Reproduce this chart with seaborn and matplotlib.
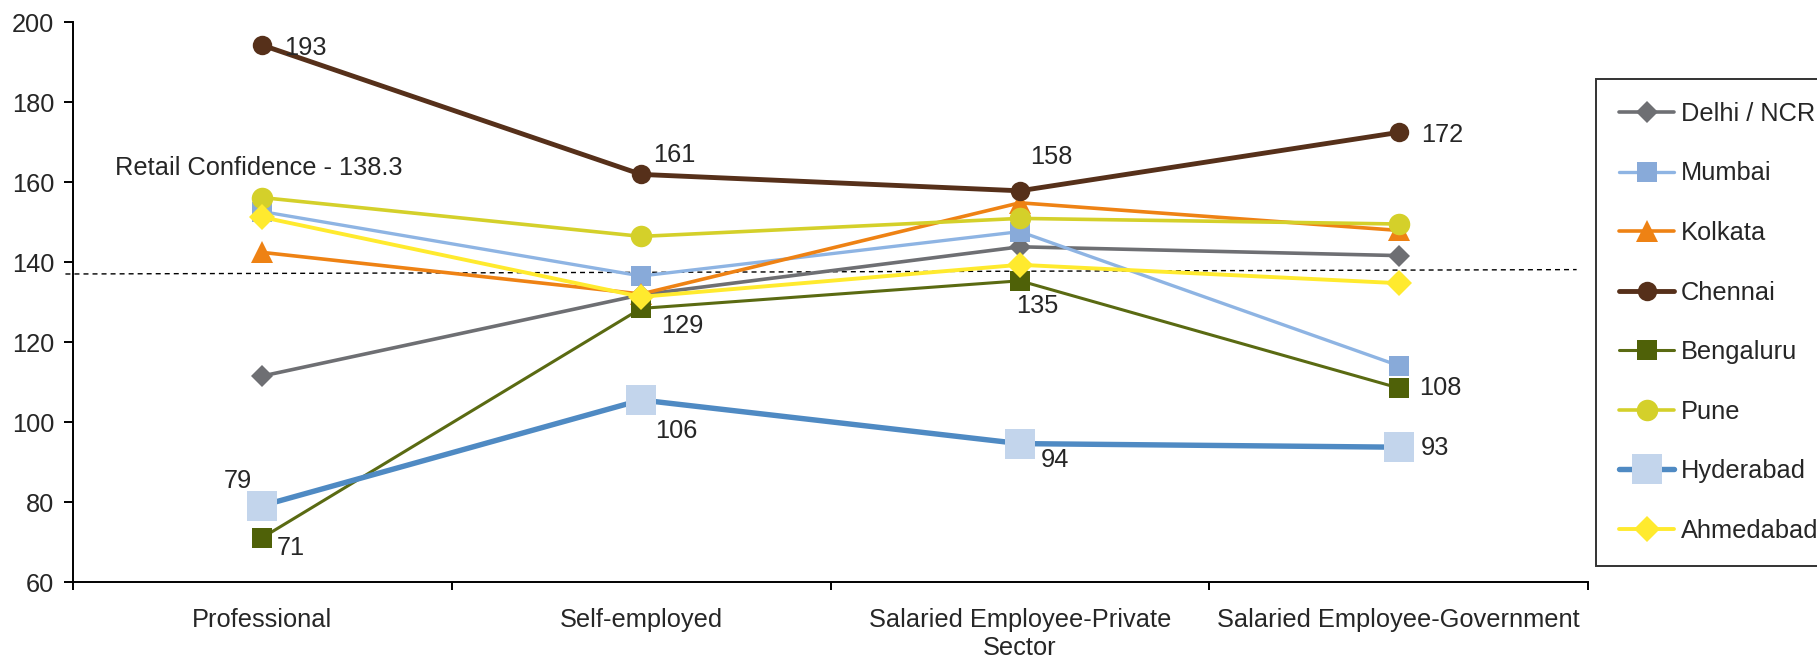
import matplotlib
matplotlib.use("Agg")
import matplotlib.pyplot as plt
import seaborn as sns
import pandas as pd

# ---------------- data ----------------
categories = ["Professional", "Self-employed",
              "Salaried Employee-Private\nSector", "Salaried Employee-Government"]
cities = ["Delhi / NCR", "Mumbai", "Kolkata", "Chennai",
          "Bengaluru", "Pune", "Hyderabad", "Ahmedabad"]

delhi = [111.5, 131.8, 143.8, 141.6]
mumbai = [152.6, 136.5, 147.6, 114.1]
kolkata = [142.4, 132.0, 154.8, 147.9]
chennai = [194.2, 161.9, 157.8, 172.4]
bengaluru = [71.1, 128.4, 135.3, 108.5]
pune = [156.1, 146.4, 150.9, 149.5]
hyderabad = [79.1, 105.5, 94.6, 93.7]
ahmedabad = [151.2, 131.3, 139.3, 134.7]

chennai_labels = ["193", "161", "158", "172"]
bengaluru_labels = ["71", "129", "135", "108"]
hyderabad_labels = ["79", "106", "94", "93"]

retail_label = "Retail Confidence - 138.3"
retail_line = [137.0, 138.1]

yticks = [60, 80, 100, 120, 140, 160, 180, 200]

# ---------------- styles ----------------
series = [delhi, mumbai, kolkata, chennai, bengaluru, pune, hyderabad, ahmedabad]
line_colors = ["#6E6F73", "#8EB4E3", "#EE8214", "#56301A",
               "#5A6A12", "#D4D02A", "#4F8AC3", "#FFEA2E"]
marker_colors = ["#6E6F73", "#88AAD9", "#EE8214", "#56301A",
                 "#4F6108", "#D4D02A", "#C3D5EC", "#FFEA2E"]
markers = ["D", "s", "^", "o", "s", "o", "s", "D"]
msizes = [11.5, 14.5, 16.5, 14, 14, 15.5, 21.5, 13]
lwidths = [2.6, 2.4, 2.6, 3.5, 2.2, 2.6, 3.9, 2.8]

sns.set_theme(style="white")
plt.rcParams["font.family"] = ["Liberation Sans", "DejaVu Sans"]
FS = 18.3

W, H = 1817, 665
fig = plt.figure(figsize=(W / 100, H / 100), dpi=100)
ax = fig.add_axes([73 / W, 1 - 582 / H, (1588 - 73) / W, (582 - 22) / H])

rows = []
for city, vals in zip(cities, series):
    for i, v in enumerate(vals):
        rows.append({"city": city, "pos": i, "value": v})
df = pd.DataFrame(rows)

for k, city in enumerate(cities):
    sub = df[df["city"] == city]
    sns.lineplot(data=sub, x="pos", y="value", ax=ax, color=line_colors[k],
                 linewidth=lwidths[k], marker=markers[k], markersize=msizes[k],
                 markerfacecolor=marker_colors[k], markeredgecolor=marker_colors[k],
                 markeredgewidth=0, label=city, zorder=3 + k, sort=False)

# retail confidence dashed line
ax.plot([-0.52, 3.47], retail_line, color="black", lw=1.0,
        dashes=(3.6, 2.9), zorder=2, clip_on=False)
ax.text(-0.39, 163.4, retail_label, fontsize=FS, ha="left", va="center")

# data labels
def put_labels(vals, labels, offsets):
    for i, (v, lab) in enumerate(zip(vals, labels)):
        dx, dy, ha = offsets[i]
        ax.annotate(lab, (i, v), xytext=(dx, dy), textcoords="offset pixels",
                    ha=ha, va="center", fontsize=FS, zorder=20)

put_labels(chennai, chennai_labels,
           [(22, -3, "left"), (12, 19.5, "left"), (10, 33.5, "left"), (22, -2.5, "left")])
put_labels(bengaluru, bengaluru_labels,
           [(14, -10, "left"), (20, -18, "left"), (-4, -25, "left"), (20, 0, "left")])
put_labels(hyderabad, hyderabad_labels,
           [(-10, 25, "right"), (14, -30.5, "left"), (21, -16, "left"), (22, -1, "left")])

# axes
ax.set_xlim(-0.5, 3.5)
ax.set_ylim(60, 200)
ax.set_yticks(yticks)
ax.set_yticklabels([str(t) for t in yticks], fontsize=FS)
ax.set_xticks([-0.5, 0.5, 1.5, 2.5, 3.5])
ax.set_xticklabels([])
ax.set_xticks(range(len(categories)), minor=True)
ax.set_xticklabels(categories, minor=True, fontsize=FS)
ax.tick_params(axis="x", which="minor", length=0, pad=19)
ax.tick_params(axis="x", which="major", direction="out", length=6, width=1.4,
               color="black", bottom=True)
ax.tick_params(axis="y", direction="out", length=6.5, width=1.4, color="black",
               left=True, pad=7)
ax.set_xlabel("")
ax.set_ylabel("")
ax.grid(False)
for s in ["top", "right"]:
    ax.spines[s].set_visible(False)
for s in ["left", "bottom"]:
    ax.spines[s].set_color("black")
    ax.spines[s].set_linewidth(1.4)

handles, labels = ax.get_legend_handles_labels()
ax.get_legend().remove()
leg = fig.legend(handles, labels, loc="upper left",
                 bbox_to_anchor=(1595.7 / W, 1 - 79 / H), borderaxespad=0,
                 fontsize=FS, frameon=True, fancybox=False, shadow=False,
                 handlelength=2.2, handletextpad=0.25, borderpad=0.9,
                 labelspacing=1.40, numpoints=1)
leg.get_frame().set_edgecolor("black")
leg.get_frame().set_linewidth(1.4)

fig.savefig("out.png", dpi=100)
